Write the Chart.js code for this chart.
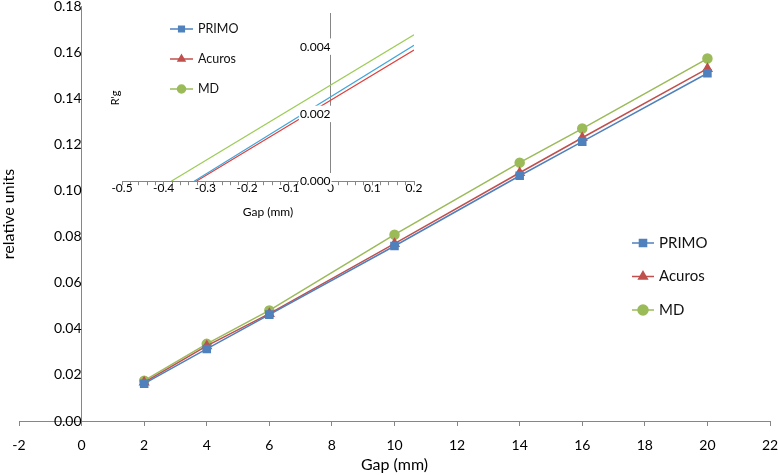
<!DOCTYPE html>
<html>
<head>
<meta charset="utf-8">
<script src="https://cdn.jsdelivr.net/npm/chart.js@4.4.1/dist/chart.umd.min.js"></script>
<style>
  body { margin: 0; background: #fff; }
  #wrap { position: relative; width: 778px; height: 475px; }
  #main { position: absolute; left: 0; top: 0; }
  #inset { position: absolute; left: 100px; top: 0; }
</style>
</head>
<body>
<div id="wrap">
  <canvas id="main" width="778" height="475"></canvas>
  <canvas id="inset" width="330" height="223"></canvas>
</div>
<script>
// main chart: relative units vs gap
var gaps = [2, 4, 6, 10, 14, 16, 20];
var primo = [0.0162, 0.0313, 0.0462, 0.0760, 0.1065, 0.1213, 0.1510];
var acuros = [0.0168, 0.0326, 0.0466, 0.0770, 0.1078, 0.1230, 0.1530];
var md = [0.0175, 0.0335, 0.0480, 0.0809, 0.1122, 0.1270, 0.1574];
var seriesNames = ['PRIMO', 'Acuros', 'MD'];

// inset: R'g near zero gap (start and end of each line)
var primoInsetX = [-0.327, 0.2];
var primoInsetY = [0, 0.00404];
var acurosInsetX = [-0.322, 0.2];
var acurosInsetY = [0, 0.00390];
var mdInsetX = [-0.382, 0.2];
var mdInsetY = [0, 0.00435];

var font = 'Lato, "Open Sans", sans-serif';
var axisGrey = '#868686';
var colors = ['#4f81bd', '#c0504d', '#9bbb59'];
var insetColors = ['#3ea6dc', '#e0403c', '#9ccc55'];
var shapes = ['rect', 'triangle', 'circle'];

function pts(xs, ys) {
    return xs.map(function (x, i) { return { x: x, y: ys[i] }; });
}

// draws the line+marker legend and the rotated y title
var extrasPlugin = {
    id: 'extras',
    afterDraw: function (chart, args, opts) {
        var ctx = chart.ctx;
        ctx.save();
        // y title
        ctx.translate(opts.title.x, opts.title.y);
        ctx.rotate(-Math.PI / 2);
        ctx.font = opts.title.size + 'px ' + font;
        ctx.fillStyle = '#000';
        ctx.textAlign = 'center';
        ctx.textBaseline = 'middle';
        ctx.fillText(opts.title.text, 0, 0);
        ctx.restore();

        var lg = opts.legend;
        chart.data.datasets.forEach(function (ds, i) {
            var y = lg.y + i * lg.gap;
            ctx.save();
            ctx.strokeStyle = ds.pointBackgroundColor;
            ctx.fillStyle = ds.pointBackgroundColor;
            ctx.lineWidth = 1.5;
            ctx.beginPath();
            ctx.moveTo(lg.x, y);
            ctx.lineTo(lg.x + lg.len, y);
            ctx.stroke();
            Chart.helpers.drawPoint(ctx, { pointStyle: ds.pointStyle, radius: lg.r, rotation: 0, borderWidth: 1 }, lg.x + lg.len / 2, y);
            ctx.font = lg.size + 'px ' + font;
            ctx.fillStyle = '#111';
            ctx.textAlign = 'left';
            ctx.textBaseline = 'middle';
            ctx.fillText(ds.label, lg.x + lg.len + 5, y);
            ctx.restore();
        });
    }
};

function noPad(s) {
    s.paddingTop = 0; s.paddingBottom = 0; s.paddingLeft = 0; s.paddingRight = 0;
}

var mainSets = [primo, acuros, md].map(function (vals, i) {
    return {
        label: seriesNames[i],
        data: pts(gaps, vals),
        borderColor: colors[i],
        backgroundColor: colors[i],
        pointBackgroundColor: colors[i],
        pointBorderColor: colors[i],
        pointStyle: shapes[i],
        pointRadius: i === 2 ? 4.5 : 5,
        borderWidth: 1.5,
        tension: 0
    };
});

new Chart(document.getElementById('main').getContext('2d'), {
    type: 'line',
    data: { datasets: mainSets },
    plugins: [extrasPlugin],
    options: {
        responsive: false,
        animation: false,
        layout: { padding: { left: 19, right: 8, top: 5, bottom: 1 } },
        plugins: {
            legend: { display: false },
            tooltip: { enabled: false },
            extras: {
                title: { text: 'relative units', x: 9, y: 214, size: 16 },
                legend: { x: 632, y: 243, gap: 33.5, len: 22, r: 5, size: 15 }
            }
        },
        scales: {
            x: {
                type: 'linear',
                min: -2,
                max: 22,
                grid: { drawOnChartArea: false, tickLength: 5, color: axisGrey },
                border: { color: axisGrey },
                ticks: { stepSize: 2, padding: 11, color: '#000', font: { family: font, size: 14 } },
                title: { display: true, text: 'Gap (mm)', color: '#000', font: { family: font, size: 16 }, padding: { top: -10, bottom: 0 } },
                afterFit: noPad
            },
            y: {
                type: 'linear',
                min: 0,
                max: 0.18,
                position: { x: 0 },
                grid: { display: false, drawTicks: false },
                border: { display: true, color: axisGrey },
                ticks: {
                    stepSize: 0.02, padding: 11, color: '#000', font: { family: font, size: 14 },
                    callback: function (v) { return v.toFixed(2); }
                },
                afterFit: noPad
            }
        }
    }
});

var insetSets = [
    pts(primoInsetX, primoInsetY),
    pts(acurosInsetX, acurosInsetY),
    pts(mdInsetX, mdInsetY)
].map(function (d, i) {
    return {
        label: seriesNames[i],
        data: d,
        borderColor: insetColors[i],
        pointBackgroundColor: colors[i],
        pointStyle: shapes[i],
        pointRadius: 0,
        borderWidth: 1.2,
        tension: 0
    };
});

new Chart(document.getElementById('inset').getContext('2d'), {
    type: 'line',
    data: { datasets: insetSets },
    plugins: [extrasPlugin],
    options: {
        responsive: false,
        animation: false,
        layout: { padding: { left: 22, right: 16, top: 13, bottom: 0 } },
        plugins: {
            legend: { display: false },
            tooltip: { enabled: false },
            extras: {
                title: { text: "R'g", x: 15, y: 98, size: 11 },
                legend: { x: 70, y: 29, gap: 30, len: 23, r: 4, size: 12.5 }
            }
        },
        scales: {
            x: {
                type: 'linear',
                min: -0.5,
                max: 0.2,
                grid: { drawOnChartArea: false, tickLength: 4, color: axisGrey },
                border: { color: axisGrey },
                ticks: {
                    stepSize: 0.02, autoSkip: false, maxRotation: 0, padding: -4,
                    color: '#000', font: { family: font, size: 12 },
                    callback: function (v) {
                        var t = v * 10;
                        return Math.abs(t - Math.round(t)) < 1e-6 ? String(Math.round(t) / 10) : '';
                    }
                },
                title: { display: true, text: 'Gap (mm)', color: '#000', font: { family: font, size: 12 }, padding: { top: 13, bottom: 4 } },
                afterFit: noPad
            },
            y: {
                type: 'linear',
                min: 0,
                max: 0.005,
                position: { x: 0 },
                grid: { display: false, drawTicks: false },
                border: { display: true, color: axisGrey },
                ticks: {
                    stepSize: 0.002, includeBounds: false, padding: 6, z: 1,
                    showLabelBackdrop: true, backdropColor: '#fff', backdropPadding: 1,
                    color: '#000', font: { family: font, size: 12 },
                    callback: function (v) { return v.toFixed(3); }
                },
                afterFit: noPad
            }
        }
    }
});
</script>
</body>
</html>
